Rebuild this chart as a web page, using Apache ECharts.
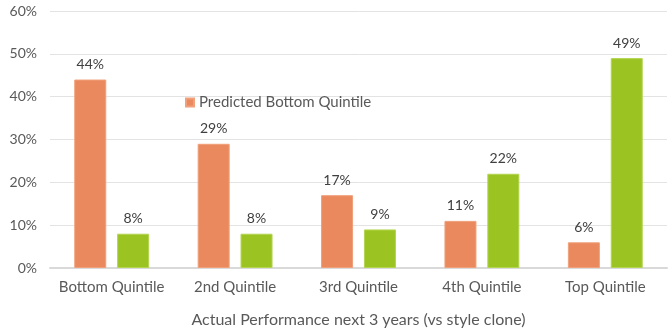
<!DOCTYPE html>
<html>
<head>
<meta charset="utf-8">
<script src="https://cdn.jsdelivr.net/npm/echarts@6/dist/echarts.min.js"></script>
<style>
  html, body { margin: 0; padding: 0; background: #fff; }
  #chart { width: 672px; height: 330px; }
</style>
</head>
<body>
<div id="chart"></div>
<script>
// Quintile of actual performance over the next 3 years
const categories = ['Bottom Quintile', '2nd Quintile', '3rd Quintile', '4th Quintile', 'Top Quintile'];
// Share of funds (%) in each actual-performance quintile
const predictedBottom = [44, 29, 17, 11, 6];
const predictedTop = [8, 8, 9, 22, 49];
const yTicks = [0, 10, 20, 30, 40, 50, 60];

const FONT = 'Lato, "Open Sans", sans-serif';
const chart = echarts.init(document.getElementById('chart'), null, { renderer: 'canvas' });

const labelStyle = {
  show: true,
  position: 'top',
  distance: 8,
  formatter: p => p.value + '%',
  color: '#404040',
  fontSize: 14,
  fontFamily: FONT
};

chart.setOption({
  animation: false,
  grid: { left: 50, right: 5, top: 11, bottom: 62, containLabel: false, outerBoundsMode: 'none' },
  legend: {
    data: ['Predicted Bottom Quintile'],
    left: 180,
    top: 90,
    itemWidth: 8,
    itemHeight: 8,
    icon: 'rect',
    itemGap: 6,
    textStyle: { color: '#595959', fontSize: 15, fontFamily: FONT }
  },
  xAxis: {
    type: 'category',
    data: categories,
    name: 'Actual Performance next 3 years (vs style clone)',
    nameLocation: 'middle',
    nameGap: 44,
    nameTextStyle: { color: '#595959', fontSize: 16, fontFamily: FONT },
    axisTick: { show: false },
    axisLine: { show: true, lineStyle: { color: '#d9d9d9', width: 2 } },
    axisLabel: { color: '#595959', fontSize: 15, fontFamily: FONT, margin: 12, interval: 0 }
  },
  yAxis: {
    type: 'value',
    min: yTicks[0],
    max: yTicks[yTicks.length - 1],
    interval: 10,
    axisLabel: { formatter: v => v + '%', color: '#595959', fontSize: 14, fontFamily: FONT, margin: 13 },
    axisLine: { show: false },
    axisTick: { show: false },
    splitLine: { lineStyle: { color: '#e3e3e3', width: 1 } }
  },
  series: [
    {
      name: 'Predicted Bottom Quintile',
      type: 'bar',
      data: predictedBottom,
      barWidth: 32,
      barGap: '34%',
      itemStyle: { color: '#E9895D', borderColor: '#F0A07A', borderWidth: 1 },
      label: labelStyle
    },
    {
      name: 'Predicted Top Quintile',
      type: 'bar',
      data: predictedTop,
      barWidth: 32,
      barGap: '34%',
      itemStyle: { color: '#9BC423', borderColor: '#B3D550', borderWidth: 1 },
      label: labelStyle
    }
  ]
});
</script>
</body>
</html>
